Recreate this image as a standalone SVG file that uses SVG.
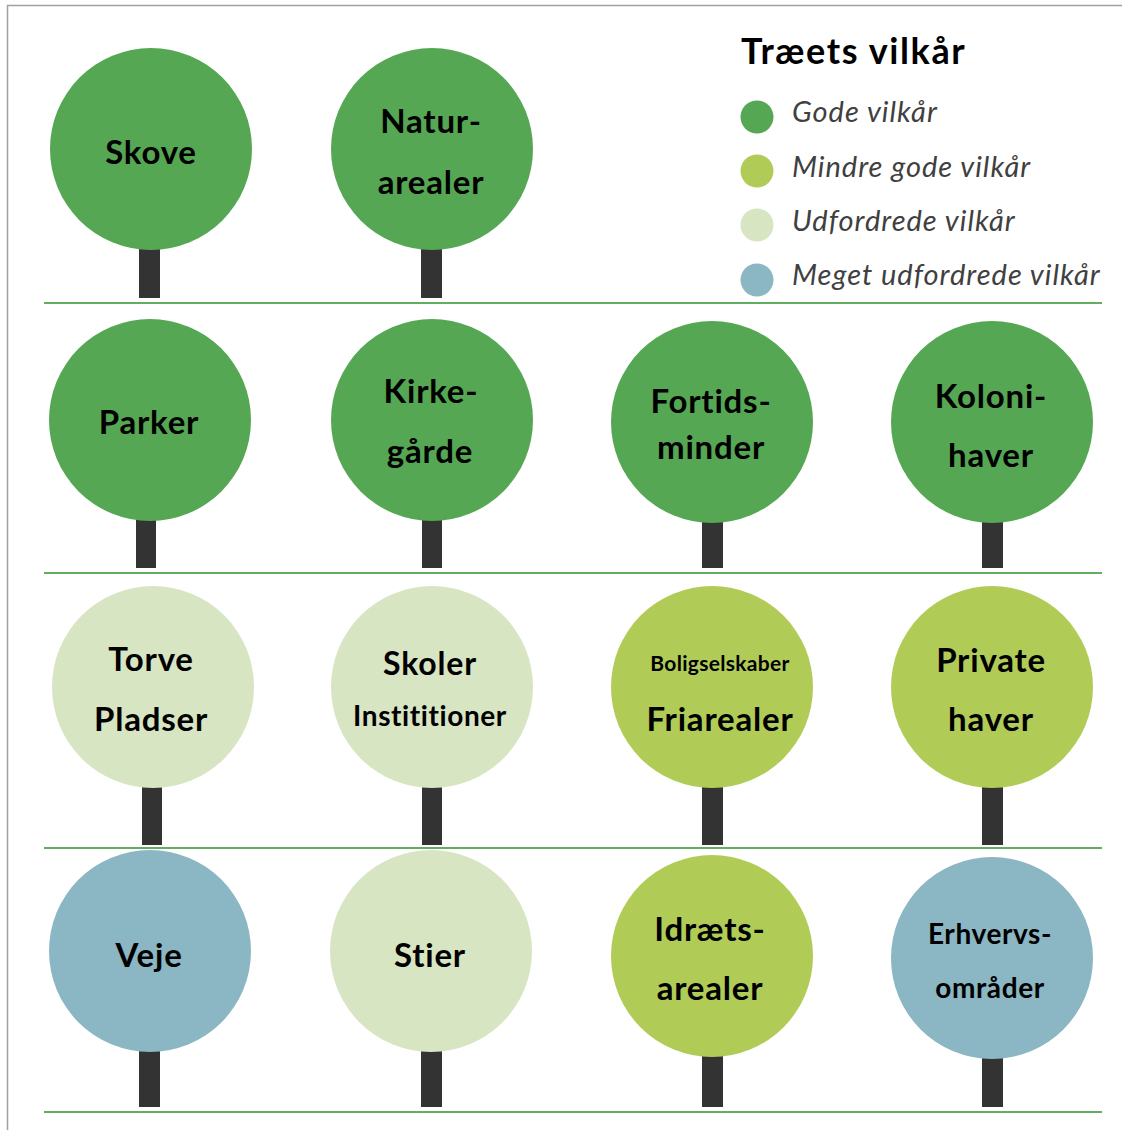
<svg xmlns="http://www.w3.org/2000/svg" width="1122" height="1130" viewBox="0 0 1122 1130">
<style>
.trunk{fill:#333333}
.c1{fill:#55a753}
.c2{fill:#b0cc57}
.c3{fill:#d7e5c3}
.c4{fill:#8bb6c3}
.lbl{font-family:Lato,"Liberation Sans",sans-serif;font-weight:700;font-size:33px;letter-spacing:0.8px;fill:#000;text-anchor:middle}
.sm{font-size:28px;letter-spacing:0.6px}
.xs{font-size:21px;letter-spacing:0.3px}
.title{font-family:Lato,"Liberation Sans",sans-serif;font-weight:700;font-size:36px;letter-spacing:1.6px;fill:#000}
.leg{font-family:Lato,"Liberation Sans",sans-serif;font-style:italic;font-size:29px;letter-spacing:1px;fill:#404040}
.sep{stroke:#62ad5f;stroke-width:2;fill:none}
</style>
<rect width="1122" height="1130" fill="#ffffff"/>
<path d="M7.5 1130 V5.5 H1122" fill="none" stroke="#a0a0a0" stroke-width="1.5"/>
<g id="separators">
<line class="sep" x1="44" y1="303" x2="1102" y2="303"/>
<line class="sep" x1="44" y1="573" x2="1102" y2="573"/>
<line class="sep" x1="44" y1="848" x2="1102" y2="848"/>
<line class="sep" x1="44" y1="1112" x2="1102" y2="1112"/>
</g>
<g id="legend">
<text class="title" x="741" y="64">Træets vilkår</text>
<circle class="c1" cx="757" cy="117" r="16.5"/>
<text class="leg" x="792" y="122">Gode vilkår</text>
<circle class="c2" cx="757" cy="171" r="16.5"/>
<text class="leg" x="792" y="177">Mindre gode vilkår</text>
<circle class="c3" cx="757" cy="225" r="16.5"/>
<text class="leg" x="792" y="231">Udfordrede vilkår</text>
<circle class="c4" cx="757" cy="280" r="16.5"/>
<text class="leg" x="792" y="285">Meget udfordrede vilkår</text>
</g>
<g id="skove"><rect class="trunk" x="139" y="240" width="21" height="58"/><circle class="c1" cx="151" cy="149" r="101"/><text class="lbl" x="151" y="164">Skove</text></g>
<g id="naturarealer"><rect class="trunk" x="421" y="240" width="21" height="58"/><circle class="c1" cx="432" cy="149" r="101"/><text class="lbl" x="431" y="133">Natur-</text><text class="lbl" x="431" y="194">arealer</text></g>
<g id="parker"><rect class="trunk" x="136" y="510" width="20" height="58"/><circle class="c1" cx="150" cy="420" r="101"/><text class="lbl" x="149" y="434">Parker</text></g>
<g id="kirkegaarde"><rect class="trunk" x="422" y="510" width="20" height="58"/><circle class="c1" cx="432" cy="420" r="101"/><text class="lbl" x="431" y="403">Kirke-</text><text class="lbl" x="430" y="463">gårde</text></g>
<g id="fortidsminder"><rect class="trunk" x="702" y="512" width="21" height="56"/><circle class="c1" cx="712" cy="422" r="101"/><text class="lbl" x="711" y="413">Fortids-</text><text class="lbl" x="711" y="459">minder</text></g>
<g id="kolonihaver"><rect class="trunk" x="982" y="512" width="21" height="56"/><circle class="c1" cx="992" cy="422" r="101"/><text class="lbl" x="991" y="408">Koloni-</text><text class="lbl" x="991" y="467">haver</text></g>
<g id="torve"><rect class="trunk" x="142" y="778" width="20" height="67"/><circle class="c3" cx="153" cy="687" r="101"/><text class="lbl" x="151" y="671">Torve</text><text class="lbl" x="151" y="731">Pladser</text></g>
<g id="skoler"><rect class="trunk" x="422" y="778" width="20" height="67"/><circle class="c3" cx="432" cy="687" r="101"/><text class="lbl" x="430" y="675" style="font-size:32px">Skoler</text><text class="lbl sm" x="430" y="726">Instititioner</text></g>
<g id="friarealer"><rect class="trunk" x="702" y="778" width="21" height="67"/><circle class="c2" cx="712" cy="687" r="101"/><text class="lbl xs" x="720" y="671">Boligselskaber</text><text class="lbl" x="720" y="731">Friarealer</text></g>
<g id="privatehaver"><rect class="trunk" x="982" y="778" width="21" height="67"/><circle class="c2" cx="992" cy="687" r="101"/><text class="lbl" x="991" y="672">Private</text><text class="lbl" x="991" y="731">haver</text></g>
<g id="veje"><rect class="trunk" x="139" y="1042" width="21" height="65"/><circle class="c4" cx="150" cy="951" r="101"/><text class="lbl" x="149" y="967">Veje</text></g>
<g id="stier"><rect class="trunk" x="421" y="1042" width="21" height="65"/><circle class="c3" cx="431" cy="951" r="101"/><text class="lbl" x="430" y="967">Stier</text></g>
<g id="idraetsarealer"><rect class="trunk" x="702" y="1046" width="21" height="61"/><circle class="c2" cx="712" cy="956" r="101"/><text class="lbl" x="710" y="941">Idræts-</text><text class="lbl" x="710" y="1000">arealer</text></g>
<g id="erhvervsomraader"><rect class="trunk" x="982" y="1048" width="21" height="59"/><circle class="c4" cx="992" cy="958" r="101"/><text class="lbl sm" x="990" y="944">Erhvervs-</text><text class="lbl sm" x="990" y="998">områder</text></g>
</svg>
